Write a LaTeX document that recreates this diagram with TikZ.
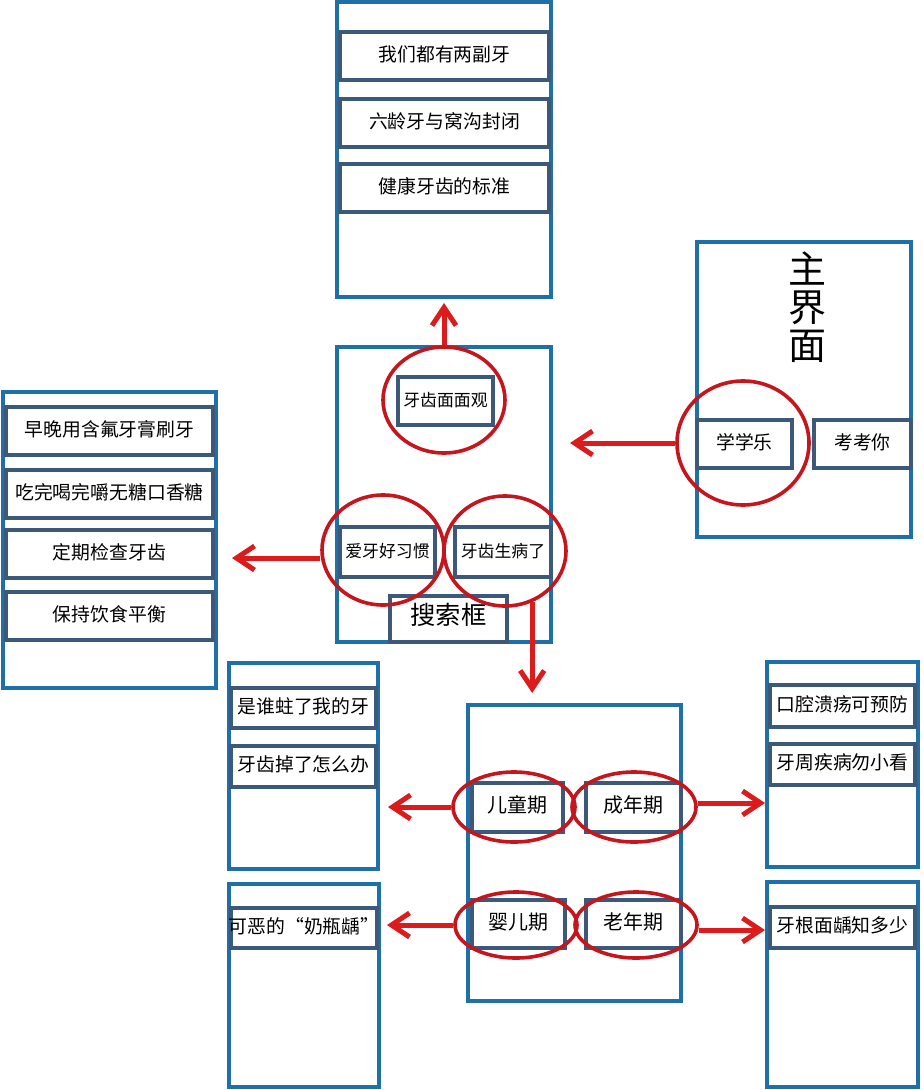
\documentclass[tikz,border=0pt]{standalone}
\usepackage{fontspec}
\setmainfont{Noto Sans CJK SC}
\usepackage{tikz}
\usetikzlibrary{calc,positioning}
\usetikzlibrary{arrows.meta,fit,shapes.geometric}
\definecolor{frameblue}{RGB}{31,111,168}
\definecolor{boxslate}{RGB}{61,89,122}
\definecolor{ringred}{RGB}{196,22,28}
\definecolor{arrowred}{RGB}{220,28,28}

\begin{document}
\begin{tikzpicture}[x=0.25mm,y=-0.25mm,
		frame/.style={draw=frameblue,line width=1mm,inner sep=0pt},
		boxbase/.style={draw=boxslate,line width=1mm,fill=white,inner sep=0pt},
		itemlabel/.style={inner sep=0pt,text height=0.88em,text depth=0.12em,font=\fontsize{13.4pt}{16pt}\selectfont},
		item/.style={boxbase,label={[itemlabel]center:#1}},
		smallitem/.style={boxbase,label={[itemlabel,font=\fontsize{12pt}{14pt}\selectfont]center:#1}},
		stageitem/.style={boxbase,label={[itemlabel,font=\fontsize{14.2pt}{16pt}\selectfont]center:#1}},
		searchitem/.style={boxbase,label={[itemlabel,font=\fontsize{18pt}{20pt}\selectfont]center:#1}},
		ring/.style={draw=ringred,line width=0.9mm,ellipse,inner sep=0pt},
		pointer/.style={draw=arrowred,line width=1.25mm,-{Straight Barb[length=4.5mm,width=6mm]}}]
				\useasboundingbox (0,0) rectangle (923,1090);
				%\draw[color=gray,step=10, help lines,opacity=0.3] (0,0) grid (923,1090); %help grids

				% outer frames
				\node[frame,fit={(337,2)(551,297)}] (top) {};
				\node[frame,fit={(337,347)(551,642)}] (mid) {};
				\node[frame,fit={(697,242)(911,537)}] (home) {};
				\node[frame,fit={(3,392)(216,688)}] (habit) {};
				\node[frame,fit={(468,705)(681,1001)}] (stage) {};
				\node[frame,fit={(229,663)(378,869)}] (child) {};
				\node[frame,fit={(229,884)(379,1087)}] (baby) {};
				\node[frame,fit={(767,662)(918,867)}] (adult) {};
				\node[frame,fit={(767,882)(918,1087)}] (old) {};

				% top
				\node[item=我们都有两副牙,fit={(340,32)(549,80)}] (twoSets) {};
				\node[item=六龄牙与窝沟封闭,fit={(340,99)(549,147)}] (sixYear) {};
				\node[item=健康牙齿的标准,fit={(340,164)(549,212)}] (healthy) {};

				% middle
				\node[smallitem=牙齿面面观,fit={(398,377)(493,425)}] (guan) {};
				\node[smallitem=爱牙好习惯,fit={(340,527)(435,577)}] (ai) {};
				\node[smallitem=牙齿生病了,fit={(455,527)(551,577)}] (bing) {};
				\node[searchitem=搜索框,fit={(390,596)(507,642)}] (search) {};

				% home
				\node[font=\fontsize{27pt}{27pt}\selectfont,align=center] (homeTitle) at (807,307) {主\\界\\面};
				\node[item=学学乐,fit={(697,420)(792,468)}] (xue) {};
				\node[item=考考你,fit={(814,420)(911,468)}] (kao) {};

				% habits
				\node[item=早晚用含氟牙膏刷牙,fit={(6,407)(213,455)}] (brush) {};
				\node[item=吃完喝完嚼无糖口香糖,fit={(6,470)(213,518)}] (gum) {};
				\node[item=定期检查牙齿,fit={(6,530)(213,578)}] (check) {};
				\node[item=保持饮食平衡,fit={(6,592)(213,640)}] (diet) {};

				% stages
				\node[stageitem=儿童期,fit={(472,783)(563,832)}] (tong) {};
				\node[stageitem=成年期,fit={(586,783)(681,832)}] (cheng) {};
				\node[stageitem=婴儿期,fit={(472,900)(565,948)}] (ying) {};
				\node[stageitem=老年期,fit={(586,900)(681,948)}] (lao) {};

				\node[item=是谁蛀了我的牙,fit={(231,688)(376,728)}] (decay) {};
				\node[item=牙齿掉了怎么办,fit={(231,746)(376,787)}] (lost) {};
				\node[item=可恶的“奶瓶龋”,fit={(231,908)(377,948)}] (bottle) {};
				\node[item=口腔溃疡可预防,fit={(770,685)(915,727)}] (ulcer) {};
				\node[item=牙周疾病勿小看,fit={(770,744)(915,785)}] (gumDis) {};
				\node[item=牙根面龋知多少,fit={(770,907)(915,948)}] (root) {};

				% rings
				\node[ring,minimum width=30.5mm,minimum height=26.5mm] (ovGuan) at (444,400) {};
				\node[ring,minimum width=30.5mm,minimum height=27.5mm] (ovAi) at (383,550) {};
				\node[ring,minimum width=30.5mm,minimum height=27.5mm] (ovBing) at (505,551) {};
				\node[ring,minimum width=33mm,minimum height=31mm] (ovXue) at (743,443) {};
				\node[ring,minimum width=30.5mm,minimum height=17.5mm] (ovTong) at (514,807) {};
				\node[ring,minimum width=31mm,minimum height=17.5mm] (ovCheng) at (634,807) {};
				\node[ring,minimum width=30.5mm,minimum height=16.5mm] (ovYing) at (516,925) {};
				\node[ring,minimum width=30.5mm,minimum height=16.5mm] (ovLao) at (636,925) {};

				% arrows
				\draw[pointer,shorten >=1mm] (ovGuan.north) -- (ovGuan.north |- top.south);
				\draw[pointer,shorten >=4.25mm] (ovXue.west) -- (ovXue.west -| mid.east);
				\draw[pointer,shorten >=3.5mm] ([yshift=-2mm]ovAi.west) -- ([yshift=-2mm]ovAi.west -| habit.east);
				\draw[pointer,shorten >=2.5mm] (ovBing.-62) -- (ovBing.-62 |- stage.north);
				\draw[pointer,shorten >=2mm] (ovTong.west) -- (ovTong.west -| child.east);
				\draw[pointer] ([yshift=1mm]ovCheng.east) -- ([yshift=1mm]ovCheng.east -| adult.west);
				\draw[pointer,shorten >=1.5mm] (ovYing.west) -- (ovYing.west -| baby.east);
				\draw[pointer] ([yshift=-1.25mm]ovLao.east) -- ([yshift=-1.25mm]ovLao.east -| old.west);
\end{tikzpicture}
\end{document}
